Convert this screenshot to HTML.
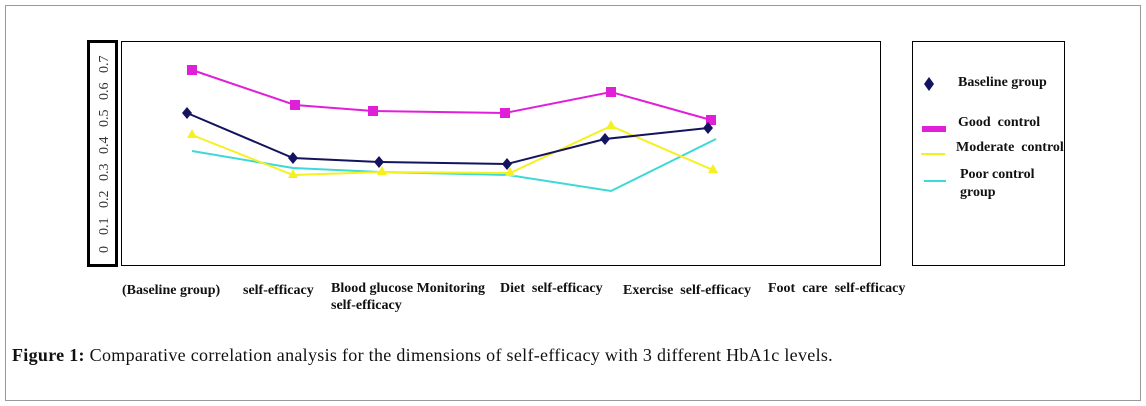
<!DOCTYPE html>
<html><head><style>
body{margin:0;width:1146px;height:406px;background:#fff;position:relative;font-family:"Liberation Serif",serif;overflow:hidden}
.t{position:absolute;font-weight:bold;font-size:14px;color:#111;white-space:nowrap}
</style></head><body>
<div style="position:absolute;left:5px;top:5px;width:1134px;height:394px;border:1px solid #999"></div>
<svg width="1146" height="406" style="position:absolute;left:0;top:0">
<rect x="88.5" y="41.5" width="28" height="224" fill="none" stroke="#000" stroke-width="3"/>
<g font-family="Liberation Serif" font-size="14" fill="#333">
<text transform="translate(108,253) rotate(-90)">0</text>
<text transform="translate(108,235) rotate(-90)">0.1</text>
<text transform="translate(108,208) rotate(-90)">0.2</text>
<text transform="translate(108,181) rotate(-90)">0.3</text>
<text transform="translate(108,154) rotate(-90)">0.4</text>
<text transform="translate(108,127) rotate(-90)">0.5</text>
<text transform="translate(108,100) rotate(-90)">0.6</text>
<text transform="translate(108,73) rotate(-90)">0.7</text>
</g>
<rect x="121.5" y="41.5" width="759" height="224" fill="none" stroke="#000" stroke-width="1"/>
<rect x="912.5" y="41.5" width="152" height="224" fill="none" stroke="#000" stroke-width="1"/>
<polyline points="192,151 293,168 380,172 508,175 611,191 716,139" fill="none" stroke="#3dd9d6" stroke-width="2"/>
<polyline points="192,135 293,175 382,172 510,173 611,126 713,170" fill="none" stroke="#f5f020" stroke-width="2"/>
<polyline points="187,113 293,158 379,162 507,164 605,139 708,128" fill="none" stroke="#14145e" stroke-width="2"/>
<polyline points="192,70 295,105 373,111 505,113 611,92 711,120" fill="none" stroke="#e020d8" stroke-width="2"/>
<g fill="#e020d8"><rect x="187" y="65" width="10" height="10"/><rect x="290" y="100" width="10" height="10"/><rect x="368" y="106" width="10" height="10"/><rect x="500" y="108" width="10" height="10"/><rect x="606" y="87" width="10" height="10"/><rect x="706" y="115" width="10" height="10"/></g>
<g fill="#14145e"><path d="M187,107l5,6l-5,6l-5,-6z"/><path d="M293,152l5,6l-5,6l-5,-6z"/><path d="M379,156l5,6l-5,6l-5,-6z"/><path d="M507,158l5,6l-5,6l-5,-6z"/><path d="M605,133l5,6l-5,6l-5,-6z"/><path d="M708,122l5,6l-5,6l-5,-6z"/></g>
<g fill="#f5f020"><path d="M192,129l5,9h-10z"/><path d="M293,169l5,9h-10z"/><path d="M382,166l5,9h-10z"/><path d="M510,167l5,9h-10z"/><path d="M611,120l5,9h-10z"/><path d="M713,164l5,9h-10z"/></g>
<path d="M929,77l5,7l-5,7l-5,-7z" fill="#14145e"/>
<rect x="922" y="126" width="24" height="6" fill="#e020d8"/>
<rect x="921" y="153" width="24" height="2" fill="#f5f020"/>
<rect x="924" y="180" width="22" height="2" fill="#3dd9d6"/>
</svg>
<div class="t" style="left:958px;top:75px">Baseline group</div>
<div class="t" style="left:958px;top:115px">Good&nbsp; control</div>
<div class="t" style="left:956px;top:140px">Moderate&nbsp; control</div>
<div class="t" style="left:960px;top:166px;line-height:18px;white-space:normal;width:100px">Poor control group</div>
<div class="t" style="left:122px;top:283px">(Baseline group)</div>
<div class="t" style="left:243px;top:283px">self-efficacy</div>
<div class="t" style="left:331px;top:280px;line-height:17px">Blood glucose Monitoring<br>self-efficacy</div>
<div class="t" style="left:500px;top:281px">Diet&nbsp; self-efficacy</div>
<div class="t" style="left:623px;top:283px">Exercise&nbsp; self-efficacy</div>
<div class="t" style="left:768px;top:281px">Foot&nbsp; care&nbsp; self-efficacy</div>
<div style="position:absolute;left:12px;top:345px;font-size:18px;letter-spacing:0.3px;color:#111;white-space:nowrap"><b>Figure 1:</b> Comparative correlation analysis for the dimensions of self-efficacy with 3 different HbA1c levels.</div>
</body></html>
